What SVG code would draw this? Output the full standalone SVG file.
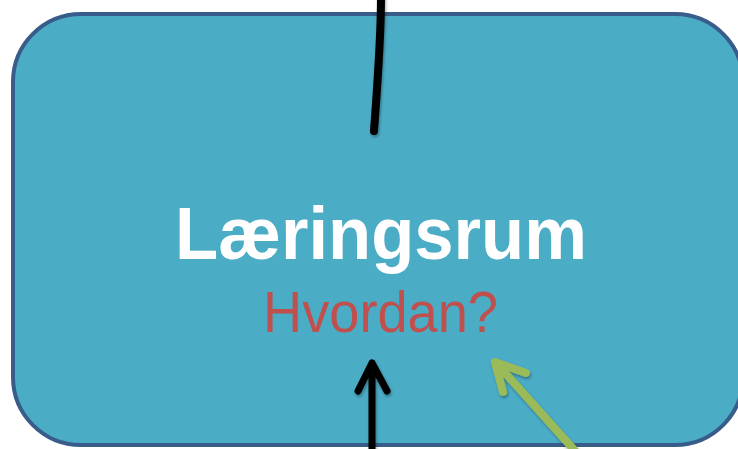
<svg xmlns="http://www.w3.org/2000/svg" width="738" height="449" viewBox="0 0 738 449">
  <style>
    .box { fill: #4BACC6; stroke: #385D8A; stroke-width: 4; }
    .title { font-family: "Liberation Sans", Arial, sans-serif; font-weight: bold; fill: #FFFFFF; font-size: 74px; }
    .sub { font-family: "Liberation Sans", Arial, sans-serif; fill: #C0504D; font-size: 58px; }
    .blk { fill: none; stroke: #000000; stroke-width: 7; stroke-linecap: round; stroke-linejoin: round; }
    .grn { fill: none; stroke: #9BBB59; stroke-width: 8; stroke-linecap: round; stroke-linejoin: round; }
  </style>
  <defs>
    <filter id="sh" x="-20%" y="-20%" width="140%" height="140%">
      <feGaussianBlur in="SourceAlpha" stdDeviation="1.5"/>
      <feOffset dx="1" dy="2" result="b"/>
      <feComponentTransfer><feFuncA type="linear" slope="0.35"/></feComponentTransfer>
      <feMerge><feMergeNode/><feMergeNode in="SourceGraphic"/></feMerge>
    </filter>
  </defs>
  <g id="laeringsrum">
    <rect class="box" x="13" y="14" width="730" height="431" rx="68" ry="68"/>
    <text class="title" x="381" y="259" text-anchor="middle" textLength="412" lengthAdjust="spacingAndGlyphs">Læringsrum</text>
    <text class="sub" x="380.5" y="332" text-anchor="middle" textLength="235" lengthAdjust="spacingAndGlyphs">Hvordan?</text>
  </g>
  <g id="connectors" filter="url(#sh)">
    <path class="blk" d="M381,-2 C381,40 377,90 374,131" style="stroke-width:8"/>
    <path class="blk" d="M372,452 L372,363 M358,391 L372,363 L387,391"/>
    <path class="grn" d="M576,452 L497,364 M503,392 L495,362 L526,373"/>
  </g>
</svg>
